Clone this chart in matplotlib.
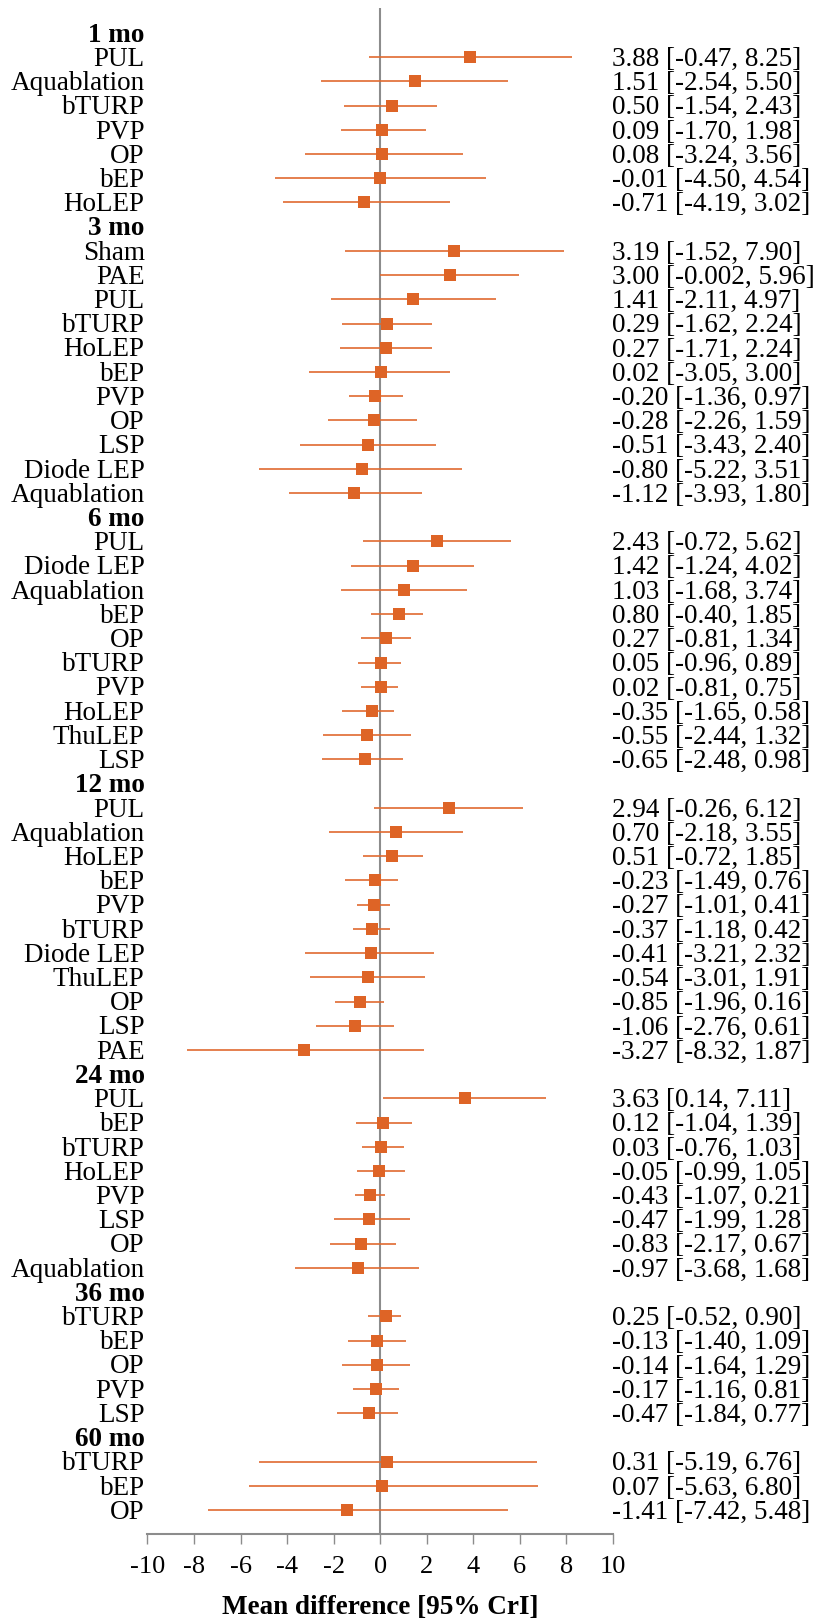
import matplotlib
matplotlib.use("Agg")
import matplotlib.pyplot as plt

plt.rcParams['font.family'] = ['Liberation Serif', 'DejaVu Serif']

groups = ["1 mo", "3 mo", "6 mo", "12 mo", "24 mo", "36 mo", "60 mo"]

treatments = [
    ["PUL", "Aquablation", "bTURP", "PVP", "OP", "bEP", "HoLEP"],
    ["Sham", "PAE", "PUL", "bTURP", "HoLEP", "bEP", "PVP", "OP", "LSP", "Diode LEP", "Aquablation"],
    ["PUL", "Diode LEP", "Aquablation", "bEP", "OP", "bTURP", "PVP", "HoLEP", "ThuLEP", "LSP"],
    ["PUL", "Aquablation", "HoLEP", "bEP", "PVP", "bTURP", "Diode LEP", "ThuLEP", "OP", "LSP", "PAE"],
    ["PUL", "bEP", "bTURP", "HoLEP", "PVP", "LSP", "OP", "Aquablation"],
    ["bTURP", "bEP", "OP", "PVP", "LSP"],
    ["bTURP", "bEP", "OP"],
]

means = [
    [3.88, 1.51, 0.50, 0.09, 0.08, -0.01, -0.71],
    [3.19, 3.00, 1.41, 0.29, 0.27, 0.02, -0.20, -0.28, -0.51, -0.80, -1.12],
    [2.43, 1.42, 1.03, 0.80, 0.27, 0.05, 0.02, -0.35, -0.55, -0.65],
    [2.94, 0.70, 0.51, -0.23, -0.27, -0.37, -0.41, -0.54, -0.85, -1.06, -3.27],
    [3.63, 0.12, 0.03, -0.05, -0.43, -0.47, -0.83, -0.97],
    [0.25, -0.13, -0.14, -0.17, -0.47],
    [0.31, 0.07, -1.41],
]

lowers = [
    [-0.47, -2.54, -1.54, -1.70, -3.24, -4.50, -4.19],
    [-1.52, -0.002, -2.11, -1.62, -1.71, -3.05, -1.36, -2.26, -3.43, -5.22, -3.93],
    [-0.72, -1.24, -1.68, -0.40, -0.81, -0.96, -0.81, -1.65, -2.44, -2.48],
    [-0.26, -2.18, -0.72, -1.49, -1.01, -1.18, -3.21, -3.01, -1.96, -2.76, -8.32],
    [0.14, -1.04, -0.76, -0.99, -1.07, -1.99, -2.17, -3.68],
    [-0.52, -1.40, -1.64, -1.16, -1.84],
    [-5.19, -5.63, -7.42],
]

uppers = [
    [8.25, 5.50, 2.43, 1.98, 3.56, 4.54, 3.02],
    [7.90, 5.96, 4.97, 2.24, 2.24, 3.00, 0.97, 1.59, 2.40, 3.51, 1.80],
    [5.62, 4.02, 3.74, 1.85, 1.34, 0.89, 0.75, 0.58, 1.32, 0.98],
    [6.12, 3.55, 1.85, 0.76, 0.41, 0.42, 2.32, 1.91, 0.16, 0.61, 1.87],
    [7.11, 1.39, 1.03, 1.05, 0.21, 1.28, 0.67, 1.68],
    [0.90, 1.09, 1.29, 0.81, 0.77],
    [6.76, 6.80, 5.48],
]

labels_text = [
    ["3.88 [-0.47, 8.25]", "1.51 [-2.54, 5.50]", "0.50 [-1.54, 2.43]", "0.09 [-1.70, 1.98]",
     "0.08 [-3.24, 3.56]", "-0.01 [-4.50, 4.54]", "-0.71 [-4.19, 3.02]"],
    ["3.19 [-1.52, 7.90]", "3.00 [-0.002, 5.96]", "1.41 [-2.11, 4.97]", "0.29 [-1.62, 2.24]",
     "0.27 [-1.71, 2.24]", "0.02 [-3.05, 3.00]", "-0.20 [-1.36, 0.97]", "-0.28 [-2.26, 1.59]",
     "-0.51 [-3.43, 2.40]", "-0.80 [-5.22, 3.51]", "-1.12 [-3.93, 1.80]"],
    ["2.43 [-0.72, 5.62]", "1.42 [-1.24, 4.02]", "1.03 [-1.68, 3.74]", "0.80 [-0.40, 1.85]",
     "0.27 [-0.81, 1.34]", "0.05 [-0.96, 0.89]", "0.02 [-0.81, 0.75]", "-0.35 [-1.65, 0.58]",
     "-0.55 [-2.44, 1.32]", "-0.65 [-2.48, 0.98]"],
    ["2.94 [-0.26, 6.12]", "0.70 [-2.18, 3.55]", "0.51 [-0.72, 1.85]", "-0.23 [-1.49, 0.76]",
     "-0.27 [-1.01, 0.41]", "-0.37 [-1.18, 0.42]", "-0.41 [-3.21, 2.32]", "-0.54 [-3.01, 1.91]",
     "-0.85 [-1.96, 0.16]", "-1.06 [-2.76, 0.61]", "-3.27 [-8.32, 1.87]"],
    ["3.63 [0.14, 7.11]", "0.12 [-1.04, 1.39]", "0.03 [-0.76, 1.03]", "-0.05 [-0.99, 1.05]",
     "-0.43 [-1.07, 0.21]", "-0.47 [-1.99, 1.28]", "-0.83 [-2.17, 0.67]", "-0.97 [-3.68, 1.68]"],
    ["0.25 [-0.52, 0.90]", "-0.13 [-1.40, 1.09]", "-0.14 [-1.64, 1.29]", "-0.17 [-1.16, 0.81]",
     "-0.47 [-1.84, 0.77]"],
    ["0.31 [-5.19, 6.76]", "0.07 [-5.63, 6.80]", "-1.41 [-7.42, 5.48]"],
]

xticks = list(range(-10, 11, 2))
xtick_labels = [str(t) for t in xticks]

W, H = 813, 1618
fig = plt.figure(figsize=(W / 100, H / 100), dpi=100)
ax_left, ax_right = 147.5 / W, 612.8 / W
ax_bottom, ax_top = 1 - 1533.5 / H, 1 - 8 / H
ax = fig.add_axes([ax_left, ax_bottom, ax_right - ax_left, ax_top - ax_bottom])

orange = '#DE6426'
line_orange = '#E06A30'
gray = '#8C8C8C'

ytrans = ax.get_yaxis_transform()
row = 0
fs = 19.5
for g, trts, ms, los, ups, txts in zip(groups, treatments, means, lowers, uppers, labels_text):
    ax.text(-0.006, row + 0.36, g, transform=ytrans, ha='right', va='baseline',
            fontsize=fs, fontweight='bold')
    row += 1
    for t, m, lo, up, tx in zip(trts, ms, los, ups, txts):
        ax.plot([lo, up], [row, row], color=line_orange, lw=1.2, solid_capstyle='butt', zorder=2)
        ax.plot([m], [row], marker='s', ms=8.2, color=orange, mec=orange, mew=0, zorder=3)
        ax.text(-0.006, row + 0.36, t, transform=ytrans, ha='right', va='baseline', fontsize=fs)
        ax.text(0.998, row + 0.36, tx, transform=ytrans, ha='left', va='baseline', fontsize=fs)
        row += 1

n_rows = row
ax.set_ylim(n_rows - 1 + 0.97, -1.03)
ax.set_xlim(-10, 10)
ax.axvline(0, color=gray, lw=1.5, zorder=1)

for s in ['top', 'left', 'right']:
    ax.spines[s].set_visible(False)
ax.spines['bottom'].set_color(gray)
ax.spines['bottom'].set_linewidth(1.5)
ax.set_yticks([])
ax.set_xticks(xticks)
ax.set_xticklabels(xtick_labels, fontsize=19)
ax.tick_params(axis='x', direction='out', length=7.2, width=1.0, color=gray, pad=9)

fig.text((ax_left + ax_right) / 2, 1 - 1614 / H, "Mean difference [95% CrI]",
         ha='center', va='baseline', fontsize=19.5, fontweight='bold')

fig.savefig("out.png", dpi=100)
